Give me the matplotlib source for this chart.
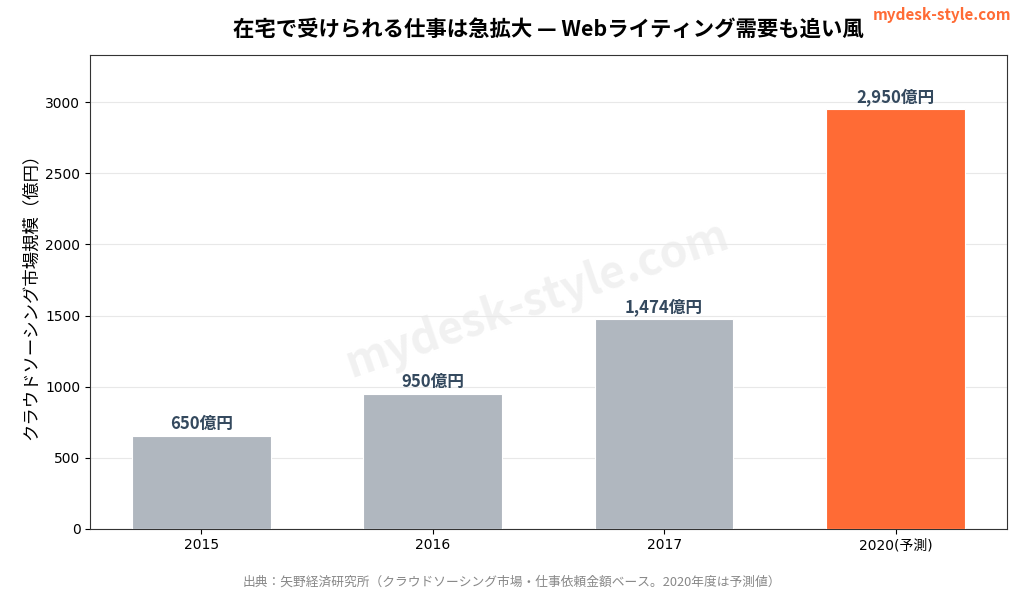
import numpy as np
import matplotlib
matplotlib.use("Agg")
import matplotlib.pyplot as plt

plt.rcParams['font.family'] = ['Noto Sans CJK JP', 'DejaVu Sans']

# データ
years = ['2015', '2016', '2017', '2020(予測)']
values = [650, 950, 1474, 2950]
colors = ['#B0B7BF', '#B0B7BF', '#B0B7BF', '#FF6B35']

fig, ax = plt.subplots(figsize=(10.24, 5.92), dpi=100)
fig.subplots_adjust(left=0.088, right=0.983, top=0.907, bottom=0.107)

x = np.arange(len(years))
bars = ax.bar(x, values, width=0.6, color=colors, edgecolor='white', linewidth=0.8, zorder=3)

# 値ラベル
for b, v in zip(bars, values):
    ax.text(b.get_x() + b.get_width() / 2, v + 20, f'{v:,}億円',
            ha='center', va='bottom', fontsize=12, fontweight='bold', color='#34495E', zorder=4)

tick_font = ['DejaVu Sans', 'Noto Sans CJK JP']
ax.set_xticks(x)
ax.set_xticklabels(years, fontsize=10, family=tick_font)
ax.set_ylim(0, 3333)
ax.set_yticks([0, 500, 1000, 1500, 2000, 2500, 3000])
for t in ax.get_yticklabels():
    t.set_family(tick_font)
    t.set_fontsize(10)
ax.set_ylabel('クラウドソーシング市場規模（億円）', fontsize=12.5)
ax.grid(axis='y', color='#E8E8E8', linewidth=0.8, zorder=0)
for s in ax.spines.values():
    s.set_color('#333333')

ax.set_title('在宅で受けられる仕事は急拡大 — Webライティング需要も追い風',
             fontsize=15.4, fontweight='bold', pad=14)

# ウォーターマーク
ax.text(0.488, 0.483, 'mydesk-style.com', transform=ax.transAxes, fontsize=32,
        fontweight='bold', color='#D8D8D8', alpha=0.35, rotation=19,
        ha='center', va='center', zorder=1)

fig.text(0.988, 0.975, 'mydesk-style.com', ha='right', va='center',
         fontsize=11, fontweight='bold', color='#FF6B35')
fig.text(0.5, 0.016, '出典：矢野経済研究所（クラウドソーシング市場・仕事依頼金額ベース。2020年度は予測値）',
         ha='center', va='center', fontsize=9.2, color='#888888')

fig.savefig('out.png', dpi=100)
